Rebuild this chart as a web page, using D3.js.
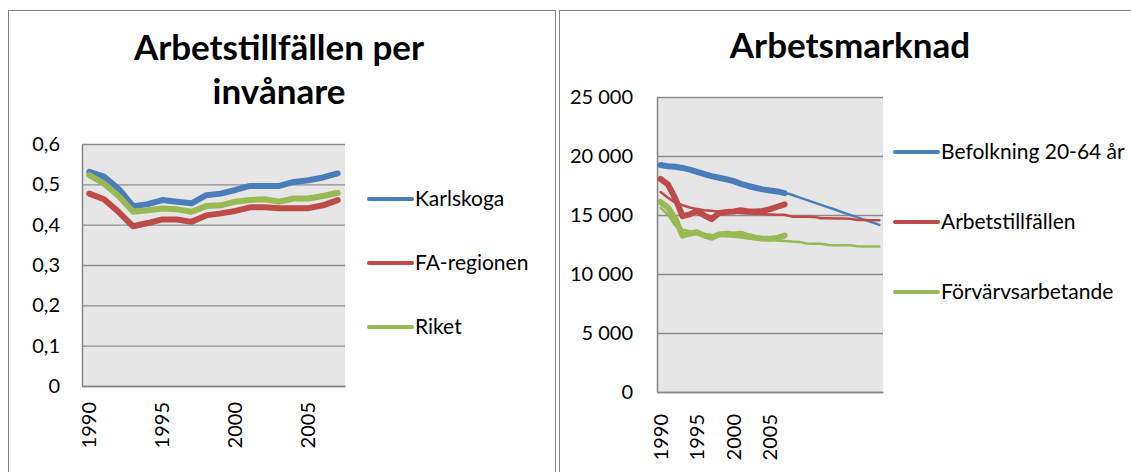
<!DOCTYPE html>
<html>
<head>
<meta charset="utf-8">
<script src="https://cdn.jsdelivr.net/npm/d3@7"></script>
<style>
  body { margin: 0; background: #fff; }
  text { font-family: Lato, "Open Sans", sans-serif; fill: #000; }
</style>
</head>
<body>
<svg id="chart" width="1131" height="472"></svg>
<script>
"use strict";

// Left chart: jobs per inhabitant
const yearsLeft = [1990, 1991, 1992, 1993, 1994, 1995, 1996, 1997, 1998, 1999, 2000, 2001, 2002, 2003, 2004, 2005, 2006, 2007];
const karlskoga = [0.531, 0.519, 0.489, 0.446, 0.451, 0.461, 0.457, 0.453, 0.473, 0.477, 0.486, 0.496, 0.496, 0.496, 0.506, 0.51, 0.517, 0.527];
const faRegionen = [0.477, 0.463, 0.432, 0.396, 0.404, 0.413, 0.413, 0.407, 0.423, 0.428, 0.434, 0.443, 0.443, 0.441, 0.441, 0.441, 0.448, 0.461];
const riket = [0.523, 0.502, 0.471, 0.432, 0.436, 0.44, 0.438, 0.432, 0.446, 0.448, 0.457, 0.461, 0.463, 0.457, 0.465, 0.465, 0.471, 0.479];
const leftTicks = [0, 0.1, 0.2, 0.3, 0.4, 0.5, 0.6];

// Right chart: labour market, outcome (thick) and projection (thin)
const yearsRight = [1990, 1991, 1992, 1993, 1994, 1995, 1996, 1997, 1998, 1999, 2000, 2001, 2002, 2003, 2004, 2005, 2006, 2007,
  2008, 2009, 2010, 2011, 2012, 2013, 2014, 2015, 2016, 2017, 2018, 2019, 2020];
const befolkning = [19230, 19130, 19090, 18990, 18850, 18660, 18470, 18290, 18160, 18030, 17870, 17640, 17460, 17310, 17170, 17070, 17000, 16850];
const arbetstillfallen = [18050, 17600, 16400, 14900, 15050, 15350, 14950, 14650, 15150, 15250, 15300, 15400, 15300, 15300, 15350, 15500, 15700, 15900];
const forvarvsarbetande = [16100, 15620, 14700, 13250, 13430, 13540, 13250, 13080, 13350, 13420, 13350, 13420, 13220, 13080, 12980, 12980, 13060, 13250];
const befolkningProg = [19200, 19120, 19060, 18960, 18820, 18640, 18450, 18270, 18140, 18000, 17840, 17620, 17450, 17300, 17160, 17050, 16980, 16900,
  16720, 16490, 16280, 16070, 15860, 15650, 15440, 15220, 15010, 14800, 14590, 14370, 14160];
const arbetstillfallenProg = [16940, 16470, 16050, 15830, 15640, 15500, 15410, 15360, 15270, 15220, 15220, 15160, 15130, 15100, 15080, 15050, 15030, 15020,
  14860, 14860, 14850, 14840, 14720, 14720, 14710, 14700, 14690, 14580, 14570, 14560, 14550];
const forvarvsarbetandeProg = [15600, 15030, 14100, 13760, 13620, 13480, 13400, 13300, 13250, 13200, 13150, 13100, 13000, 12950, 12920, 12880, 12840, 12800,
  12750, 12720, 12580, 12570, 12560, 12450, 12440, 12440, 12430, 12350, 12340, 12330, 12320];
const rightTicks = [0, 5000, 10000, 15000, 20000, 25000];

const labelYears = [1990, 1995, 2000, 2005];

const blue = "#4a7ebb";
const red = "#be4b48";
const green = "#98b954";

const sv = d3.formatLocale({ decimal: ",", thousands: "\u00a0", grouping: [3], currency: ["", " kr"] });

const svg = d3.select("#chart");

// chart frames
const frame = (x, w) => {
  svg.append("rect")
    .attr("x", x).attr("y", 10.5)
    .attr("width", w).attr("height", 520)
    .attr("fill", "#fff")
    .attr("stroke", "#868686");
};
frame(8.5, 547);
frame(559.5, 600);

const drawPanel = (cfg) => {
  const g = svg.append("g");
  const x = d3.scaleBand().domain(cfg.years).range([cfg.left, cfg.right]);
  const y = d3.scaleLinear().domain([0, cfg.yMax]).range([cfg.bottom, cfg.top]);
  const cx = (yr) => x(yr) + x.bandwidth() / 2;

  // plot area
  g.append("rect")
    .attr("x", cfg.left).attr("y", cfg.top)
    .attr("width", cfg.right - cfg.left).attr("height", cfg.bottom - cfg.top)
    .attr("fill", "#e6e6e6");

  // y axis + gridlines
  const yAxis = g.append("g")
    .attr("transform", `translate(${cfg.left},0)`)
    .call(d3.axisLeft(y).tickValues(cfg.ticks).tickFormat(cfg.format)
      .tickSize(-(cfg.right - cfg.left)).tickSizeOuter(0).tickPadding(cfg.pad));
  yAxis.select(".domain").attr("stroke", "#868686").attr("stroke-width", 1.5);
  yAxis.selectAll(".tick line").attr("stroke", "#8c8c8c").attr("stroke-width", 1.3);
  yAxis.selectAll(".tick text").attr("font-size", 20).attr("font-family", null);

  // x axis with rotated year labels
  const xAxis = g.append("g")
    .attr("transform", `translate(0,${cfg.bottom})`)
    .call(d3.axisBottom(x).tickValues(labelYears).tickSize(0).tickSizeOuter(0));
  xAxis.select(".domain").attr("stroke", "#868686").attr("stroke-width", 1.5);
  xAxis.selectAll(".tick text")
    .attr("font-size", 20).attr("font-family", null)
    .attr("transform", "rotate(-90)")
    .attr("text-anchor", "end")
    .attr("x", -cfg.labelGap).attr("y", 0).attr("dy", "0.35em");

  // series lines
  cfg.series.forEach((s) => {
    const pts = s.values.map((v, i) => ({ year: cfg.years[i], value: v }));
    g.append("path")
      .datum(pts)
      .attr("fill", "none")
      .attr("stroke", s.color)
      .attr("stroke-width", s.width)
      .attr("stroke-linejoin", "round")
      .attr("stroke-linecap", "round")
      .attr("d", d3.line().x((d) => cx(d.year)).y((d) => y(d.value)));
  });

  // legend
  const items = g.selectAll(".legend-item")
    .data(cfg.legend)
    .enter()
    .append("g")
    .attr("class", "legend-item")
    .attr("transform", (d, i) => `translate(${cfg.legendX},${cfg.legendY + i * cfg.legendStep})`);
  items.append("line")
    .attr("x1", 0).attr("x2", 43)
    .attr("stroke", (d) => d.color)
    .attr("stroke-width", 4)
    .attr("stroke-linecap", "round");
  items.append("text")
    .attr("x", 46).attr("dy", "0.35em")
    .attr("font-size", 21)
    .text((d) => d.name);

  // title
  g.selectAll(".title")
    .data(cfg.title)
    .enter()
    .append("text")
    .attr("class", "title")
    .attr("x", cfg.titleX)
    .attr("y", (d, i) => cfg.titleY + i * 44)
    .attr("text-anchor", "middle")
    .attr("font-size", 35)
    .attr("font-weight", "bold")
    .text((d) => d);
};

drawPanel({
  years: yearsLeft,
  left: 82, right: 345, top: 144, bottom: 386,
  yMax: 0.6, ticks: leftTicks,
  format: (d) => (d === 0 ? "0" : sv.format(".1f")(d)),
  pad: 22, labelGap: 16,
  series: [
    { values: karlskoga, color: blue, width: 6 },
    { values: faRegionen, color: red, width: 6 },
    { values: riket, color: green, width: 6 },
  ],
  legend: [
    { name: "Karlskoga", color: blue },
    { name: "FA-regionen", color: red },
    { name: "Riket", color: green },
  ],
  legendX: 369, legendY: 199, legendStep: 64,
  title: ["Arbetstillfällen per", "invånare"],
  titleX: 279, titleY: 60,
});

drawPanel({
  years: yearsRight,
  left: 657, right: 883, top: 97, bottom: 392,
  yMax: 25000, ticks: rightTicks,
  format: sv.format(",d"),
  pad: 24, labelGap: 22,
  series: [
    { values: befolkningProg, color: blue, width: 2.5 },
    { values: arbetstillfallenProg, color: red, width: 2.5 },
    { values: forvarvsarbetandeProg, color: green, width: 2.5 },
    { values: befolkning, color: blue, width: 6 },
    { values: arbetstillfallen, color: red, width: 6 },
    { values: forvarvsarbetande, color: green, width: 6 },
  ],
  legend: [
    { name: "Befolkning 20-64 år", color: blue },
    { name: "Arbetstillfällen", color: red },
    { name: "Förvärvsarbetande", color: green },
  ],
  legendX: 895, legendY: 152, legendStep: 70,
  title: ["Arbetsmarknad"],
  titleX: 850, titleY: 58,
});
</script>
</body>
</html>
